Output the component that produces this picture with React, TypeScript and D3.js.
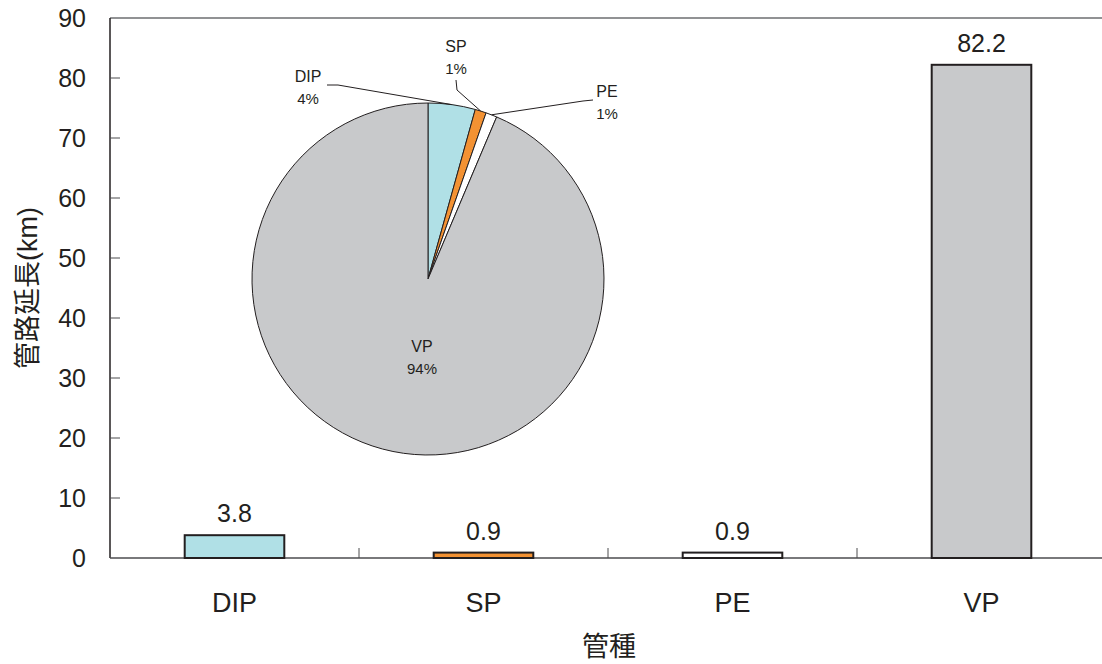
import React from "react";
import * as d3 from "d3";

const categories = ["DIP", "SP", "PE", "VP"];
const lengths = [3.8, 0.9, 0.9, 82.2];
const valueLabels = ["3.8", "0.9", "0.9", "82.2"];
const pieLabels = ["DIP", "SP", "PE", "VP"];
const piePercents = ["4%", "1%", "1%", "94%"];
const colors = ["#b0e0e6", "#f39233", "#ffffff", "#c8c9cb"];
const yTicks = [0, 10, 20, 30, 40, 50, 60, 70, 80, 90];

const W = 1102;
const H = 664;
const left = 110;
const right = 1106;
const top = 18;
const bottom = 558;
const font = "'Liberation Sans', Arial, 'Noto Sans CJK JP', sans-serif";
const ink = "#231f20";

// pie label placement (label baseline position and elbow of leader line)
const pieLabelPos = [
  { x: 308, y: 82, elbow: [[327, 85], [338, 85]] },
  { x: 456, y: 52, elbow: [[456, 80], [457, 90]] },
  { x: 607, y: 97, elbow: [[593, 100], [583, 101]] },
  { x: 422, y: 352, elbow: null },
];

export default function App() {
  const x = d3.scaleBand<string>().domain(categories).range([left, right]).paddingInner(0.6).paddingOuter(0.3);
  const y = d3.scaleLinear().domain([0, 90]).range([bottom, top]);
  const step = x.step();

  const cx = 428;
  const cy = 279;
  const R = 176;
  const pie = d3.pie<number>().sort(null).startAngle(0).endAngle(2 * Math.PI);
  const arcs = pie(lengths);
  const arc = d3.arc<d3.PieArcDatum<number>>().innerRadius(0).outerRadius(R);

  return (
    <svg width={W} height={H} style={{ position: "absolute", left: 0, top: 0, background: "#fff" }} fontFamily={font}>
      {/* frame */}
      <line x1={left} x2={W} y1={top} y2={top} stroke="#6d6e70" strokeWidth={1.5} />
      <line x1={left} x2={left} y1={top} y2={bottom} stroke={ink} strokeWidth={1.5} />
      <line x1={left} x2={W} y1={bottom} y2={bottom} stroke="#4d4d4f" strokeWidth={1.5} />
      {/* y ticks */}
      {yTicks.map((t) => (
        <g key={t}>
          {t > 0 && t < 90 && (
            <line x1={left} x2={left + 10} y1={y(t)} y2={y(t)} stroke="#4d4d4f" strokeWidth={1} />
          )}
          <text x={86} y={y(t)} dy="0.36em" textAnchor="end" fontSize={25} fill={ink}>
            {t}
          </text>
        </g>
      ))}
      {/* x category ticks */}
      {categories.slice(1).map((c) => (
        <line key={c} x1={(x(c) as number) - step * 0.3} x2={(x(c) as number) - step * 0.3} y1={bottom} y2={bottom - 10} stroke="#4d4d4f" strokeWidth={1} />
      ))}
      {/* bars */}
      {categories.map((c, i) => (
        <g key={c}>
          <rect
            x={x(c)}
            y={y(lengths[i])}
            width={x.bandwidth()}
            height={bottom - y(lengths[i])}
            fill={colors[i]}
            stroke={ink}
            strokeWidth={2}
          />
          <text x={(x(c) as number) + x.bandwidth() / 2} y={y(lengths[i]) - 13} textAnchor="middle" fontSize={25} fill={ink}>
            {valueLabels[i]}
          </text>
          <text x={(x(c) as number) + x.bandwidth() / 2} y={612} textAnchor="middle" fontSize={27} fill={ink}>
            {c}
          </text>
        </g>
      ))}
      {/* axis titles */}
      <text x={609} y={656} textAnchor="middle" fontSize={27} fill={ink}>管種</text>
      <text transform={`translate(37,288) rotate(-90)`} textAnchor="middle" fontSize={27} fill={ink}>管路延長(km)</text>
      {/* pie */}
      <g transform={`translate(${cx},${cy})`}>
        {arcs.map((a, i) => (
          <path key={i} d={arc(a) as string} fill={colors[i]} stroke={ink} strokeWidth={1} />
        ))}
      </g>
      {/* pie labels */}
      {arcs.map((a, i) => {
        const p = pieLabelPos[i];
        const mid = (a.startAngle + a.endAngle) / 2;
        const ex = cx + R * Math.sin(mid);
        const ey = cy - R * Math.cos(mid);
        return (
          <g key={i}>
            {p.elbow && (
              <polyline
                points={[...p.elbow, [ex, ey]].map((q) => q.join(",")).join(" ")}
                fill="none"
                stroke={ink}
                strokeWidth={1}
              />
            )}
            <text x={p.x} y={p.y} textAnchor="middle" fontSize={16} fill={ink}>{pieLabels[i]}</text>
            <text x={p.x} y={p.y + 22} textAnchor="middle" fontSize={15} fill={ink}>{piePercents[i]}</text>
          </g>
        );
      })}
    </svg>
  );
}
